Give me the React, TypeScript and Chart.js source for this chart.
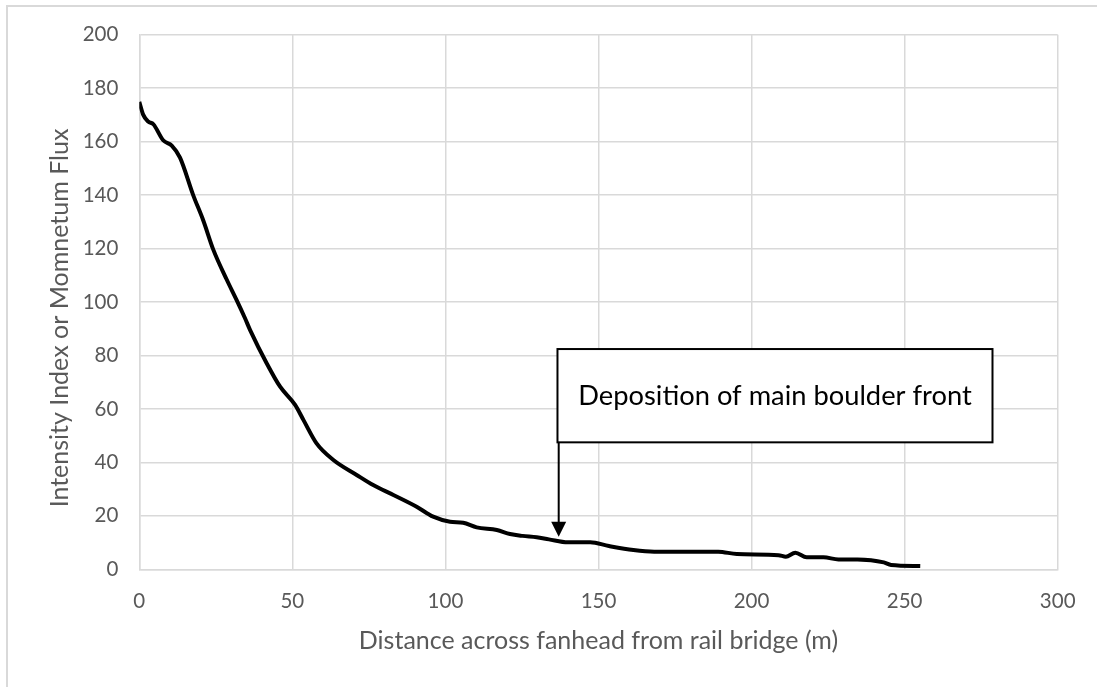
import React, { useEffect, useRef } from "react";
import { Chart, registerables } from "chart.js";

Chart.register(...registerables);

// ---- data ----
const distances: number[] = [
  0, 1.3, 2.9, 4.6, 7.8, 10.6, 13.3, 17.6, 20.9, 24.2, 28.5, 31.8, 34.5, 36.2,
  41.6, 46, 50.9, 53.6, 57.9, 63.4, 71, 76.4, 83, 90.6, 96, 101.5, 105.8,
  110.2, 116.8, 121.1, 125.2, 129.8, 133.8, 140, 147.3, 153.4, 161.4, 168.2,
  189.1, 195.2, 208.8, 211.2, 214.3, 218, 223.5, 228.4, 234.6, 243.2, 245.6,
  255.1,
];
const intensity: number[] = [
  174.9, 170, 167.5, 166.5, 160.5, 158.5, 154, 140, 130.5, 119.5, 108.5, 100.7,
  94, 89.5, 77.1, 68.3, 61.5, 55.9, 47.1, 40.9, 35.3, 31.5, 27.8, 23.4, 19.7,
  17.8, 17.4, 15.7, 14.7, 13.2, 12.5, 12, 11.2, 10.1, 10.1, 8.7, 7.2, 6.6, 6.6,
  5.7, 5.3, 4.7, 6.2, 4.5, 4.5, 3.7, 3.7, 2.6, 1.6, 1.2,
];
const xTickValues: number[] = [0, 50, 100, 150, 200, 250, 300];
const yTickValues: number[] = [0, 20, 40, 60, 80, 100, 120, 140, 160, 180, 200];
const xTitle = "Distance across fanhead from rail bridge (m)";
const yTitle = "Intensity Index or Momnetum Flux";
const noteText = "Deposition of main boulder front";
// annotation placement in data units
const noteBox = { xMin: 136.6, xMax: 278.7, yMin: 47.5, yMax: 82.4 };
const noteArrow = { x: 137, yTip: 12.2 };

const FONT = "Lato, 'Open Sans', sans-serif";
const GREY = "#595959";
const GRID = "#d9d9d9";

const framePlugin = {
  id: "frame",
  beforeDraw(chart: any) {
    const { ctx, width, height } = chart;
    ctx.save();
    ctx.fillStyle = "#ffffff";
    ctx.fillRect(0, 0, width, height);
    ctx.strokeStyle = GRID;
    ctx.lineWidth = 2;
    ctx.strokeRect(7, 6, width + 20, height + 20);
    ctx.restore();
  },
  afterDraw(chart: any) {
    const { ctx, chartArea } = chart;
    ctx.save();
    ctx.translate(60, (chartArea.top + chartArea.bottom) / 2 + 16);
    ctx.rotate(-Math.PI / 2);
    ctx.fillStyle = GREY;
    ctx.font = `25px ${FONT}`;
    ctx.textAlign = "center";
    ctx.textBaseline = "middle";
    ctx.fillText(yTitle, 0, 0);
    ctx.restore();
  },
};

const notePlugin = {
  id: "note",
  afterDatasetsDraw(chart: any) {
    const { ctx } = chart;
    const x = chart.scales.x;
    const y = chart.scales.y;
    const l = x.getPixelForValue(noteBox.xMin);
    const r = x.getPixelForValue(noteBox.xMax);
    const t = y.getPixelForValue(noteBox.yMax);
    const b = y.getPixelForValue(noteBox.yMin);
    const ax = x.getPixelForValue(noteArrow.x);
    const tip = y.getPixelForValue(noteArrow.yTip);
    ctx.save();
    ctx.strokeStyle = "#000";
    ctx.fillStyle = "#000";
    ctx.lineWidth = 2;
    ctx.beginPath();
    ctx.moveTo(ax, b);
    ctx.lineTo(ax, tip - 12);
    ctx.stroke();
    ctx.beginPath();
    ctx.moveTo(ax - 7.5, tip - 15);
    ctx.lineTo(ax + 7.5, tip - 15);
    ctx.lineTo(ax, tip);
    ctx.closePath();
    ctx.fill();
    ctx.fillStyle = "#ffffff";
    ctx.fillRect(l, t, r - l, b - t);
    ctx.strokeRect(l, t, r - l, b - t);
    ctx.fillStyle = "#000";
    ctx.font = `27.3px ${FONT}`;
    ctx.textAlign = "center";
    ctx.textBaseline = "middle";
    ctx.fillText(noteText, (l + r) / 2, (t + b) / 2 + 1);
    ctx.restore();
  },
};

export default function App() {
  const ref = useRef<HTMLCanvasElement | null>(null);

  useEffect(() => {
    document.body.style.margin = "0";
    const canvas = ref.current;
    if (!canvas) return;
    const points = distances.map((d, i) => ({ x: d, y: intensity[i] }));
    const chart = new Chart(canvas, {
      type: "line",
      data: {
        datasets: [
          {
            data: points,
            borderColor: "#000000",
            borderWidth: 4,
            pointRadius: 0,
            fill: false,
            cubicInterpolationMode: "monotone",
          },
        ],
      },
      options: {
        animation: false,
        responsive: false,
        devicePixelRatio: 1,
        layout: { padding: { top: 34.7, right: 39.3, left: 0, bottom: 0 } },
        plugins: {
          legend: { display: false },
          tooltip: { enabled: false },
        },
        scales: {
          x: {
            type: "linear",
            min: 0,
            max: 300,
            afterBuildTicks: (s: any) => {
              s.ticks = xTickValues.map((v) => ({ value: v }));
            },
            afterFit: (s: any) => {
              s.height = 687 - 569.3;
            },
            ticks: {
              color: GREY,
              font: { family: FONT, size: 20.5 },
              padding: 20,
              maxRotation: 0,
            },
            grid: { color: GRID, lineWidth: 1.5, drawTicks: false },
            border: { color: GRID, width: 1.5 },
            title: {
              display: true,
              text: xTitle,
              color: GREY,
              font: { family: FONT, size: 25 },
              padding: { top: 0, bottom: 31 },
            },
          },
          y: {
            type: "linear",
            min: 0,
            max: 200,
            afterBuildTicks: (s: any) => {
              s.ticks = yTickValues.map((v) => ({ value: v }));
            },
            afterFit: (s: any) => {
              s.width = 139.3;
            },
            ticks: {
              color: GREY,
              font: { family: FONT, size: 20.5 },
              padding: 21,
            },
            grid: { color: GRID, lineWidth: 1.5, drawTicks: false },
            border: { color: GRID, width: 1.5 },
            title: { display: false },
          },
        },
      },
      plugins: [framePlugin, notePlugin],
    });
    return () => chart.destroy();
  }, []);

  return (
    <div style={{ position: "absolute", left: 0, top: 0, width: 1097, height: 687 }}>
      <canvas ref={ref} width={1097} height={687} style={{ width: 1097, height: 687, display: "block" }} />
    </div>
  );
}
